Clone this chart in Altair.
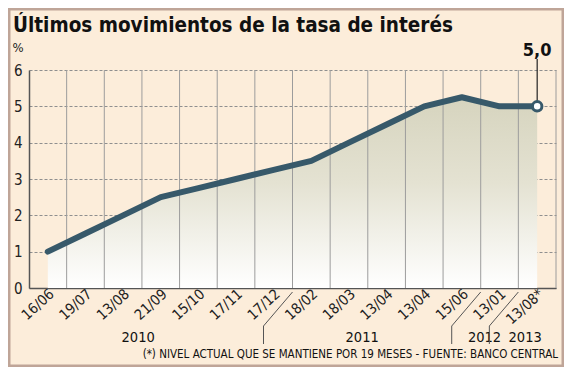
import altair as alt
import pandas as pd

labels = ["16/06", "19/07", "13/08", "21/09", "15/10", "17/11", "17/12",
          "18/02", "18/03", "13/04", "13/04", "15/06", "13/01", "13/08*"]
values = [1.0, 1.5, 2.0, 2.5, 2.75, 3.0, 3.25, 3.5, 4.0, 4.5, 5.0, 5.25, 5.0, 5.0]
years = ["2010", "2011", "2012", "2013"]
year_pos = [2.4, 8.35, 11.6, 12.68]
year_bounds = [6.5, 11.5, 12.5]

title_text = "Últimos movimientos de la tasa de interés"
note_text = "(*) NIVEL ACTUAL QUE SE MANTIENE POR 19 MESES - FUENTE: BANCO CENTRAL"
last_label = "5,0"

W, H = 527, 218
BG = "#fcedda"
LINE = "#37596a"
FONT = "DejaVu Sans Condensed"

df = pd.DataFrame({"idx": list(range(len(labels))), "label": labels, "v": values})
grid_df = pd.DataFrame({"b": [i + 0.5 for i in range(len(labels))]})
year_df = pd.DataFrame({"year": years, "pos": year_pos})
bound_df = pd.DataFrame({"b": year_bounds})
last_df = df.tail(1).assign(txt=last_label)

label_js = "[" + ",".join("'" + l + "'" for l in labels) + "]"

xscale = alt.Scale(domain=[-0.5, len(labels) - 0.5], nice=False, zero=False)
yscale = alt.Scale(domain=[0, 6], nice=False)

x_axis = alt.Axis(values=list(range(len(labels))), labelExpr=label_js + "[datum.value]",
                  labelAngle=-42, labelAlign="right", labelBaseline="middle",
                  labelPadding=4, labelOffset=4, labelFontSize=14.5, labelFont=FONT,
                  labelColor="#222", labelOverlap=False, labelFlush=False,
                  ticks=False, grid=False, domainColor="#555", domainWidth=1.5,
                  title=None)
y_axis = alt.Axis(values=[0, 1, 2, 3, 4, 5, 6], labelFontSize=15, labelFont=FONT,
                  labelColor="#222", labelPadding=7, labelOverlap=False,
                  labelFlush=False, ticks=False, grid=True,
                  gridDash=[3, 2], gridColor="#8f8f8f", gridWidth=1,
                  domainColor="#555", domainWidth=1.5,
                  title="%", titleAngle=0, titleX=-17, titleY=-16, titleAlign="left",
                  titleFont=FONT, titleFontSize=13, titleFontWeight="normal",
                  titleColor="#222")

X = alt.X("idx:Q", scale=xscale, axis=x_axis)
Y = alt.Y("v:Q", scale=yscale, axis=y_axis)

base = alt.Chart(df)

area = base.mark_area(
    color=alt.Gradient(gradient="linear",
                       stops=[alt.GradientStop(color="#d6d4be", offset=0),
                              alt.GradientStop(color="#e4e2d2", offset=0.45),
                              alt.GradientStop(color="#ffffff", offset=1)],
                       x1=0, x2=0, y1=0, y2=1),
    interpolate="linear"
).encode(x=X, y=Y)

vgrid = alt.Chart(grid_df).mark_rule(color="#9c9c9c", strokeWidth=1).encode(
    x=alt.X("b:Q", scale=xscale, axis=x_axis), y=alt.value(0), y2=alt.value(H))

line = base.mark_line(color=LINE, strokeWidth=6, strokeCap="round",
                      strokeJoin="round").encode(x=X, y=Y)

last_rule = alt.Chart(last_df).mark_rule(color="#222", strokeWidth=1.2).encode(
    x=X, y=Y, y2=alt.value(-11))

last_pt = alt.Chart(last_df).mark_point(shape="circle", filled=True, fill="white",
                                        stroke=LINE, strokeWidth=3, size=90,
                                        opacity=1).encode(x=X, y=Y)

last_txt = alt.Chart(last_df).mark_text(font=FONT, fontSize=18, fontWeight="bold",
                                        color="#111", baseline="alphabetic",
                                        align="center").encode(
    x=X, y=alt.value(-14), text="txt:N")

year_txt = alt.Chart(year_df).mark_text(font=FONT, fontSize=14.5, color="#111",
                                        baseline="middle", align="center").encode(
    x=alt.X("pos:Q", scale=xscale, axis=x_axis), y=alt.value(H + 50), text="year:N")

sep_diag = alt.Chart(bound_df).mark_rule(color="#555", strokeWidth=1,
                                         x2Offset=-29).encode(
    x=alt.X("b:Q", scale=xscale, axis=x_axis), x2=alt.X2("b:Q"),
    y=alt.value(H + 4), y2=alt.value(H + 38))

sep_vert = alt.Chart(bound_df).mark_rule(color="#555", strokeWidth=1,
                                         xOffset=-29, x2Offset=-29).encode(
    x=alt.X("b:Q", scale=xscale, axis=x_axis), x2=alt.X2("b:Q"),
    y=alt.value(H + 38), y2=alt.value(H + 56))

title = alt.Chart(pd.DataFrame({"t": [title_text]})).mark_text(
    font=FONT, fontSize=20.5, fontWeight="bold", color="#111", align="left",
    baseline="alphabetic").encode(x=alt.value(-16), y=alt.value(-38), text="t:N")

note = alt.Chart(pd.DataFrame({"t": [note_text]})).mark_text(
    font=FONT, fontSize=11.5, color="#111", align="right",
    baseline="middle").encode(x=alt.value(529), y=alt.value(H + 67), text="t:N")

frame = alt.Chart(pd.DataFrame({"a": [0]})).mark_rect(
    fill=None, stroke="#bfa598", strokeWidth=3).encode(
    x=alt.value(-20), x2=alt.value(W + 7), y=alt.value(-61), y2=alt.value(H + 78))

chart = alt.layer(
    area, vgrid, line, last_rule, last_pt, last_txt, year_txt, sep_diag, sep_vert,
    title, note, frame
).properties(
    width=W, height=H,
    padding={"left": 21, "top": 62, "right": 8, "bottom": 79},
    autosize=alt.AutoSizeParams(type="none"),
    background=BG,
).configure_view(stroke=None)

chart.save("out.html", embed_options={"renderer": "svg", "actions": False})
